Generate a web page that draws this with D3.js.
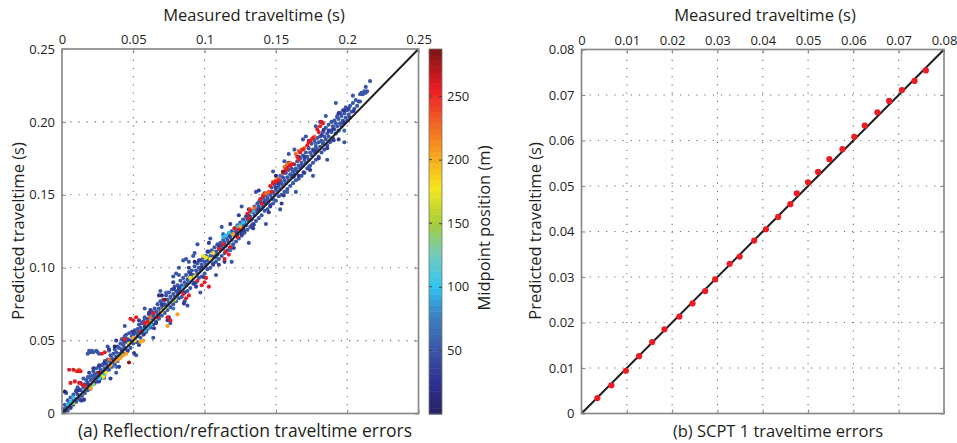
<!DOCTYPE html>
<html>
<head>
<meta charset="utf-8">
<script src="https://cdn.jsdelivr.net/npm/d3@7"></script>
<style>
body { margin: 0; background: #fff; }
text { font-family: "Open Sans", sans-serif; fill: #231f20; }
</style>
</head>
<body>
<div id="chart"></div>
<script>
// ---- data: panel (a), [measured, predicted] in seconds, grouped by midpoint position (m)
const groupMidpoints = { blue: 50, blueDark: 32, blueLight: 66, navy: 12, cyan: 98, green: 140, yellow: 175, orange: 205, orangeRed: 228, red: 258, darkRed: 282 };

const bluePts = [
  [.001,.003],[.002,.001],[.002,.006],[.003,.004],[.004,.009],[.004,.002],[.005,.007],[.006,.004],[.006,.011],[.007,.008],[.008,.013],[.008,.006],[.009,.010],[.010,.016],[.010,.008],[.003,.014],
  [.011,.013],[.011,.018],[.012,.010],[.013,.016],[.013,.021],[.014,.012],[.015,.018],[.015,.024],[.016,.014],[.016,.020],[.017,.023],[.018,.016],[.018,.021],[.019,.025],[.019,.018],[.020,.023],[.020,.017],
  [.021,.026],[.021,.020],[.022,.024],[.022,.029],[.023,.021],[.023,.027],[.024,.031],[.024,.025],[.025,.022],[.025,.028],[.026,.032],[.026,.026],[.027,.030],[.027,.024],[.028,.033],[.028,.029],[.029,.027],[.029,.034],[.030,.031],[.030,.036],
  [.018,.041],[.019,.043],[.020,.042],[.021,.043],[.022,.042],[.024,.043],[.025,.042],[.026,.041],
  [.031,.029],[.031,.034],[.032,.037],[.032,.032],[.033,.030],[.033,.036],[.034,.040],[.034,.034],[.035,.038],[.035,.032],[.036,.041],[.036,.036],[.037,.034],[.037,.044],[.038,.039],[.038,.042],[.039,.036],[.039,.046],[.040,.041],[.040,.045],
  [.041,.039],[.041,.048],[.042,.044],[.042,.051],[.043,.041],[.043,.047],[.044,.053],[.044,.045],[.045,.049],[.045,.054],[.046,.043],[.046,.051],[.047,.048],[.047,.055],[.048,.050],[.048,.045],[.049,.053],[.049,.056],[.050,.048],[.050,.054],
  [.051,.051],[.051,.057],[.052,.055],[.052,.049],[.053,.058],[.053,.053],[.054,.061],[.054,.056],[.055,.052],[.055,.059],[.056,.062],[.056,.057],[.057,.054],[.057,.063],[.058,.059],[.058,.066],[.059,.056],[.059,.062],[.060,.065],[.060,.058],
  [.061,.063],[.061,.068],[.062,.059],[.062,.066],[.063,.070],[.063,.064],[.064,.061],[.064,.068],[.065,.072],[.065,.066],[.066,.063],[.066,.070],[.067,.075],[.067,.068],[.068,.065],[.068,.072],[.069,.077],[.069,.070],[.070,.067],[.070,.074],
  [.071,.072],[.071,.078],[.072,.069],[.072,.075],[.073,.081],[.073,.074],[.074,.071],[.074,.078],[.075,.083],[.075,.076],[.076,.073],[.076,.080],[.077,.085],[.077,.078],[.078,.075],[.078,.082],[.079,.087],[.079,.080],[.080,.077],[.080,.084],[.078,.094],[.080,.096],[.082,.095],
  [.081,.082],[.081,.088],[.082,.079],[.082,.085],[.083,.091],[.083,.084],[.084,.080],[.084,.088],[.085,.093],[.085,.086],[.086,.083],[.086,.090],[.087,.095],[.087,.088],[.088,.084],[.088,.092],[.089,.097],[.089,.090],[.090,.086],[.090,.094],[.085,.105],[.087,.106],[.089,.104],[.086,.077],
  [.091,.092],[.091,.098],[.092,.089],[.092,.095],[.093,.101],[.093,.094],[.094,.090],[.094,.098],[.095,.103],[.095,.096],[.096,.093],[.096,.100],[.097,.105],[.097,.098],[.098,.094],[.098,.102],[.099,.107],[.099,.100],[.100,.096],[.100,.104],[.095,.116],[.093,.110],
  [.101,.102],[.101,.108],[.102,.099],[.102,.105],[.103,.111],[.103,.104],[.104,.100],[.104,.108],[.105,.112],[.105,.106],[.106,.103],[.106,.110],[.107,.114],[.107,.108],[.108,.104],[.108,.111],[.109,.116],[.109,.109],[.110,.106],[.110,.113],
  [.111,.112],[.111,.117],[.112,.108],[.112,.115],[.113,.119],[.113,.113],[.114,.110],[.114,.117],[.115,.121],[.115,.115],[.116,.112],[.116,.119],[.117,.123],[.117,.117],[.118,.114],[.118,.121],[.119,.125],[.119,.119],[.120,.116],[.120,.123],
  [.121,.122],[.121,.127],[.122,.118],[.122,.125],[.123,.129],[.123,.123],[.124,.120],[.124,.127],[.125,.131],[.125,.125],[.126,.122],[.126,.129],[.127,.133],[.127,.127],[.128,.124],[.128,.131],[.129,.135],[.129,.129],[.130,.126],[.130,.133],
  [.131,.132],[.131,.137],[.132,.128],[.132,.135],[.133,.139],[.133,.133],[.134,.130],[.134,.138],[.135,.142],[.135,.136],[.136,.132],[.136,.140],[.137,.144],[.137,.138],[.138,.134],[.138,.142],[.139,.146],[.139,.140],[.140,.136],[.140,.144],
  [.141,.142],[.141,.148],[.142,.139],[.142,.146],[.143,.150],[.143,.144],[.144,.140],[.144,.148],[.145,.152],[.145,.146],[.146,.143],[.146,.150],[.147,.155],[.147,.148],[.148,.144],[.148,.152],[.149,.157],[.149,.150],[.150,.146],[.150,.154],
  [.151,.152],[.151,.158],[.152,.149],[.152,.156],[.153,.160],[.153,.154],[.154,.150],[.154,.158],[.155,.162],[.155,.156],[.156,.152],[.156,.160],[.157,.165],[.157,.158],[.158,.154],[.158,.162],[.159,.167],[.159,.160],[.160,.156],[.160,.164],
  [.161,.162],[.161,.168],[.162,.158],[.162,.166],[.163,.171],[.163,.164],[.164,.160],[.164,.168],[.165,.173],[.165,.166],[.166,.161],[.166,.170],[.167,.175],[.167,.168],[.168,.163],[.168,.172],[.169,.177],[.169,.170],[.170,.165],[.170,.174],
  [.171,.172],[.171,.179],[.172,.168],[.172,.176],[.173,.182],[.173,.174],[.174,.170],[.174,.179],[.175,.185],[.175,.177],[.176,.172],[.176,.181],[.177,.187],[.177,.179],[.178,.174],[.178,.183],[.179,.189],[.179,.181],[.180,.176],[.180,.186],
  [.181,.183],[.181,.190],[.182,.179],[.182,.187],[.183,.193],[.183,.185],[.184,.181],[.184,.190],[.185,.196],[.185,.188],[.186,.184],[.186,.192],[.187,.198],[.187,.190],[.188,.186],[.188,.194],[.189,.200],[.189,.193],[.190,.189],[.190,.197],
  [.191,.195],[.191,.201],[.192,.192],[.192,.199],[.193,.204],[.193,.197],[.194,.194],[.194,.202],[.195,.206],[.195,.199],[.196,.197],[.196,.204],[.197,.208],[.197,.201],[.198,.199],[.198,.206],[.199,.210],[.199,.203],[.200,.201],[.200,.208],
  [.201,.205],[.202,.211],[.203,.207],[.204,.213],[.205,.209],[.206,.215],[.207,.211],[.208,.214],[.209,.219],[.210,.220],[.211,.219],[.212,.221],[.213,.220],[.214,.221],[.216,.228],
  [.032,.046],[.038,.028],[.044,.060],[.052,.040],[.058,.072],[.064,.052],[.069,.084],[.076,.062],[.082,.100],[.088,.074],[.092,.108],[.097,.083],
  [.104,.120],[.108,.095],[.112,.128],[.119,.104],[.126,.142],[.131,.117],[.136,.152],[.143,.130],[.148,.166],[.153,.140],[.159,.178],[.164,.152],
  [.169,.188],[.176,.163],[.181,.200],[.186,.174],[.192,.213],[.198,.186],[.204,.218],[.209,.214],[.213,.224],
  [.178,.197],[.185,.204],[.171,.190],[.163,.181],[.156,.173]
];
// wider scatter, darker blue
const blueDarkPts = [
  [.012,.016],[.0155,.0095],[.019,.028],[.0225,.0205],[.026,.033],[.0295,.0245],[.033,.044],[.0365,.0365],[.040,.032],[.0435,.0495],
  [.047,.050],[.0505,.0415],[.054,.064],[.0575,.0545],[.061,.069],[.0645,.0585],[.068,.081],[.0715,.0725],[.075,.066],[.0785,.0855],
  [.082,.086],[.0855,.0755],[.089,.100],[.0925,.0895],[.096,.105],[.0995,.0935],[.103,.117],[.1065,.1085],[.110,.102],[.1135,.1215],
  [.117,.122],[.1205,.1135],[.124,.136],[.1275,.1255],[.131,.140],[.1345,.1295],[.138,.153],[.1415,.1445],[.145,.138],[.1485,.1585],
  [.152,.158],[.1555,.1495],[.159,.172],[.1625,.1625],[.166,.176],[.1695,.1655],[.173,.187],[.1765,.1805],[.180,.175],[.1835,.1945],
  [.187,.194],[.1905,.1875],[.194,.206],[.1975,.1995],[.201,.209],[.2045,.2075],
  [.006,.004],[.010,.015],[.014,.009],[.018,.020],[.022,.031],[.026,.022],[.030,.035],[.034,.024],[.038,.050],[.042,.043],
  [.046,.043],[.050,.056],[.054,.047],[.058,.060],[.062,.071],[.066,.062],[.070,.075],[.074,.064],[.078,.090],[.082,.083],
  [.086,.083],[.090,.096],[.094,.087],[.098,.100],[.102,.111],[.106,.102],[.110,.115],[.114,.104],[.118,.130],[.122,.123],
  [.126,.123],[.130,.136],[.134,.127],[.138,.140],[.142,.151],[.146,.142],[.150,.155],[.154,.144],[.158,.170],[.162,.163],
  [.166,.163],[.170,.176],[.174,.167],[.178,.180],[.182,.191],[.186,.182],[.190,.195],[.194,.188],[.198,.208],[.202,.203]
];
// lighter blue
const blueLightPts = [
  [.008,.009],[.013,.009],[.018,.025],[.023,.026],[.028,.027],[.033,.043],[.038,.032],[.043,.047],[.048,.049],[.053,.049],
  [.058,.065],[.063,.066],[.068,.067],[.073,.083],[.078,.072],[.083,.087],[.088,.089],[.093,.089],[.098,.105],[.103,.106],
  [.108,.107],[.113,.123],[.118,.112],[.123,.127],[.128,.129],[.133,.129],[.138,.145],[.143,.146],[.148,.147],[.153,.163],
  [.158,.152],[.163,.167],[.168,.170],[.173,.169],[.178,.185],[.183,.186],[.188,.187],[.193,.203],[.198,.194]
];
const navyPts = [[.002,.015],[.037,.046],[.093,.104],[.150,.163],[.070,.081]];
const cyanPts = [[.004,.006],[.006,.008],[.008,.011],[.026,.024],[.028,.026],[.030,.027],[.113,.121],[.115,.122],[.117,.124],[.123,.128],[.125,.129],[.127,.131],[.132,.138],[.134,.139],[.058,.057],[.060,.059],[.062,.061],[.085,.086],[.090,.090],[.040,.040]];
const greenPts = [[.077,.077],[.079,.078],[.020,.018],[.022,.020],[.062,.063],[.008,.007]];
const yellowPts = [[.027,.027],[.029,.025],[.031,.028],[.070,.070],[.072,.072],[.090,.093],[.093,.094],[.099,.108],[.101,.107],[.104,.106],[.106,.110],[.047,.048],[.051,.050]];
const orangePts = [[.034,.033],[.037,.036],[.039,.037],[.041,.038],[.043,.040],[.045,.041],[.055,.049],[.057,.050],[.081,.068],[.074,.060],[.050,.052],[.060,.062],[.120,.123],[.125,.128],[.020,.017]];
const orangeRedPts = [[.010,.029],[.012,.030],[.164,.178],[.166,.180],[.168,.181],[.170,.182],[.156,.169],[.158,.171],[.160,.172],[.148,.159],[.150,.160],[.152,.161],[.141,.150],[.143,.151],[.145,.152],[.132,.140],[.135,.141],[.175,.188],[.177,.190],[.033,.037],[.062,.066]];
const redPts = [[.005,.030],[.008,.030],[.011,.029],[.013,.029],[.006,.021],[.009,.022],[.012,.021],[.014,.020],[.016,.019],[.028,.041],[.030,.042],[.048,.065],[.050,.064],[.052,.066],[.044,.051],[.055,.056],[.058,.062],[.060,.063],[.064,.069],[.067,.066],[.074,.066],[.076,.064],[.085,.082],[.087,.079],[.089,.081],[.095,.091],[.098,.088],[.100,.090],[.101,.093],[.103,.087],[.110,.113],[.113,.116],[.115,.111],[.118,.114],[.114,.106],[.117,.109],[.121,.127],[.124,.126],[.123,.121],[.130,.137],[.132,.139],[.131,.134],[.139,.147],[.141,.149],[.140,.144],[.146,.156],[.148,.158],[.150,.159],[.147,.152],[.152,.160],[.155,.165],[.157,.167],[.158,.168],[.160,.170],[.162,.171],[.165,.176],[.167,.179],[.169,.181],[.166,.174],[.172,.184],[.174,.187],[.176,.189],[.173,.186],[.179,.195],[.181,.197],[.183,.199],[.180,.193],[.182,.200]];
const darkRedPts = [[.047,.035],[.072,.078],[.155,.166],[.026,.028]];

// ---- data: panel (b), SCPT 1
const scptMeasured  = [.0035,.0066,.0098,.0127,.0156,.0183,.0216,.0245,.0273,.0295,.0327,.0349,.0381,.0407,.0434,.0461,.0475,.0500,.0522,.0547,.0576,.0602,.0625,.0653,.0679,.0707,.0735,.0760];
const scptPredicted = [.0034,.0062,.0094,.0126,.0157,.0185,.0213,.0242,.0269,.0295,.0329,.0345,.0380,.0405,.0432,.0460,.0484,.0508,.0531,.0559,.0581,.0608,.0633,.0662,.0687,.0711,.0731,.0754];

// ---- ticks
const aTicks = [0, 0.05, 0.1, 0.15, 0.2, 0.25];
const aTopLabels = ["0", "0.05", "0.1", "0.15", "0.2", "0.25"];
const aLeftLabels = ["0", "0.05", "0.10", "0.15", "0.20", "0.25"];
const cbTicks = [50, 100, 150, 200, 250];
const cbDomain = [0, 287];
const bTicks = [0, 0.01, 0.02, 0.03, 0.04, 0.05, 0.06, 0.07, 0.08];
const bLabels = ["0", "0.01", "0.02", "0.03", "0.04", "0.05", "0.06", "0.07", "0.08"];

// colormap (jet as printed)
const cmapStops = [0, 25, 50, 80, 100, 125, 150, 178, 205, 228, 255, 287];
const cmapColors = ["#262262", "#2e3192", "#3a56a6", "#3b86c8", "#2ec4f0", "#72cbc0", "#a6ce39", "#f5e71e", "#f8a01c", "#f26522", "#ed1c24", "#7d1416"];

const width = 957, height = 443;
const svg = d3.select("#chart").append("svg")
  .attr("width", width)
  .attr("height", height);

const color = d3.scaleLinear().domain(cmapStops).range(cmapColors).interpolate(d3.interpolateRgb);

const gridColor = "#6d6e71";
const boxColor = "#8a8a8a";

function panel(x, y, ticks, topLabels, leftLabels) {
  const g = svg.append("g");
  const inner = ticks.slice(1, -1);
  // dotted grid
  g.selectAll(".vg").data(inner).enter().append("line")
    .attr("x1", d => x(d)).attr("x2", d => x(d))
    .attr("y1", y.range()[0]).attr("y2", y.range()[1])
    .attr("stroke", gridColor).attr("stroke-width", 1.1).attr("stroke-dasharray", "1.2,7");
  g.selectAll(".hg").data(inner).enter().append("line")
    .attr("y1", d => y(d)).attr("y2", d => y(d))
    .attr("x1", x.range()[0]).attr("x2", x.range()[1])
    .attr("stroke", gridColor).attr("stroke-width", 1.1).attr("stroke-dasharray", "1.2,7");

  const top = g.append("g").attr("transform", `translate(0,${y.range()[1]})`)
    .call(d3.axisTop(x).tickValues(ticks).tickSize(-4).tickPadding(5).tickFormat((d, i) => topLabels[i]));
  const bottom = g.append("g").attr("transform", `translate(0,${y.range()[0]})`)
    .call(d3.axisBottom(x).tickValues(ticks).tickSize(-4).tickFormat(""));
  const left = g.append("g").attr("transform", `translate(${x.range()[0]},0)`)
    .call(d3.axisLeft(y).tickValues(ticks).tickSize(-4).tickPadding(7).tickFormat((d, i) => leftLabels[i]));
  const right = g.append("g").attr("transform", `translate(${x.range()[1]},0)`)
    .call(d3.axisRight(y).tickValues(ticks).tickSize(-4).tickFormat(""));
  [top, bottom, left, right].forEach(a => {
    a.select(".domain").remove();
    a.selectAll("line").attr("stroke", boxColor);
    a.selectAll("text").style("font-size", "13px").attr("fill", "#231f20");
  });
  return g;
}

function frame(x, y) {
  svg.append("rect")
    .attr("x", x.range()[0]).attr("y", y.range()[1])
    .attr("width", x.range()[1] - x.range()[0])
    .attr("height", y.range()[0] - y.range()[1])
    .attr("fill", "none").attr("stroke", boxColor).attr("stroke-width", 1.7);
}

// ---------- panel (a)
const xA = d3.scaleLinear().domain([0, 0.25]).range([62, 418.5]);
const yA = d3.scaleLinear().domain([0, 0.25]).range([413.5, 49]);
panel(xA, yA, aTicks, aTopLabels, aLeftLabels);

const groups = [
  [blueLightPts, "blueLight"], [bluePts, "blue"], [blueDarkPts, "blueDark"], [cyanPts, "cyan"], [greenPts, "green"], [yellowPts, "yellow"],
  [orangePts, "orange"], [orangeRedPts, "orangeRed"], [redPts, "red"], [darkRedPts, "darkRed"], [navyPts, "navy"]
];
const scat = svg.append("g");
groups.forEach(([pts, key]) => {
  scat.append("g").selectAll("circle").data(pts).enter().append("circle")
    .attr("cx", d => xA(d[0]))
    .attr("cy", d => yA(d[1]))
    .attr("r", 2.05)
    .attr("fill", color(groupMidpoints[key]));
});

svg.append("line")
  .attr("x1", xA(0)).attr("y1", yA(0)).attr("x2", xA(0.25)).attr("y2", yA(0.25))
  .attr("stroke", "#231f20").attr("stroke-width", 2);
frame(xA, yA);

// colorbar
const cbY = d3.scaleLinear().domain(cbDomain).range([414, 49]);
const cbX0 = 429, cbW = 13;
const nSteps = 64;
const stepVals = d3.range(nSteps).map(i => cbDomain[0] + (cbDomain[1] - cbDomain[0]) * i / nSteps);
const stepH = (cbDomain[1] - cbDomain[0]) / nSteps;
svg.append("g").selectAll("rect").data(stepVals).enter().append("rect")
  .attr("x", cbX0).attr("width", cbW)
  .attr("y", d => cbY(d + stepH))
  .attr("height", d => cbY(d) - cbY(d + stepH) + 0.5)
  .attr("fill", d => color(d + stepH / 2));
svg.append("rect").attr("x", cbX0).attr("y", cbY(cbDomain[1])).attr("width", cbW)
  .attr("height", cbY(cbDomain[0]) - cbY(cbDomain[1]))
  .attr("fill", "none").attr("stroke", "#777").attr("stroke-width", 0.8);
const cbAxis = svg.append("g").attr("transform", `translate(${cbX0 + cbW},0)`)
  .call(d3.axisRight(cbY).tickValues(cbTicks).tickSize(-3).tickPadding(5));
cbAxis.select(".domain").remove();
cbAxis.selectAll("line").attr("stroke", "#444");
cbAxis.selectAll("text").style("font-size", "13px").attr("fill", "#231f20");
svg.append("g").selectAll("line").data(cbTicks).enter().append("line")
  .attr("x1", cbX0).attr("x2", cbX0 + 3)
  .attr("y1", d => cbY(d)).attr("y2", d => cbY(d))
  .attr("stroke", "#444");

// ---------- panel (b)
const xB = d3.scaleLinear().domain([0, 0.08]).range([581.5, 944]);
const yB = d3.scaleLinear().domain([0, 0.08]).range([413.5, 49.5]);
panel(xB, yB, bTicks, bLabels, bLabels);

svg.append("line")
  .attr("x1", xB(0)).attr("y1", yB(0)).attr("x2", xB(0.08)).attr("y2", yB(0.08))
  .attr("stroke", "#231f20").attr("stroke-width", 2);
svg.append("g").selectAll("circle").data(scptMeasured).enter().append("circle")
  .attr("cx", d => xB(d))
  .attr("cy", (d, i) => yB(scptPredicted[i]))
  .attr("r", 3.1)
  .attr("fill", "#ed1c24");
frame(xB, yB);

// ---------- titles
const big = "16.5px";
svg.append("text").attr("x", 254).attr("y", 21).attr("text-anchor", "middle").style("font-size", big).text("Measured traveltime (s)");
svg.append("text").attr("x", 765).attr("y", 21).attr("text-anchor", "middle").style("font-size", big).text("Measured traveltime (s)");
svg.append("text").attr("transform", "translate(24,231) rotate(-90)").attr("text-anchor", "middle").style("font-size", big).text("Predicted traveltime (s)");
svg.append("text").attr("transform", "translate(541,231) rotate(-90)").attr("text-anchor", "middle").style("font-size", big).text("Predicted traveltime (s)");
svg.append("text").attr("transform", "translate(490,228) rotate(-90)").attr("text-anchor", "middle").style("font-size", big).text("Midpoint position (m)");
svg.append("text").attr("x", 245).attr("y", 437).attr("text-anchor", "middle").style("font-size", "17.5px").text("(a) Reflection/refraction traveltime errors");
svg.append("text").attr("x", 778).attr("y", 437).attr("text-anchor", "middle").style("font-size", big).text("(b) SCPT 1 traveltime errors");
</script>
</body>
</html>
